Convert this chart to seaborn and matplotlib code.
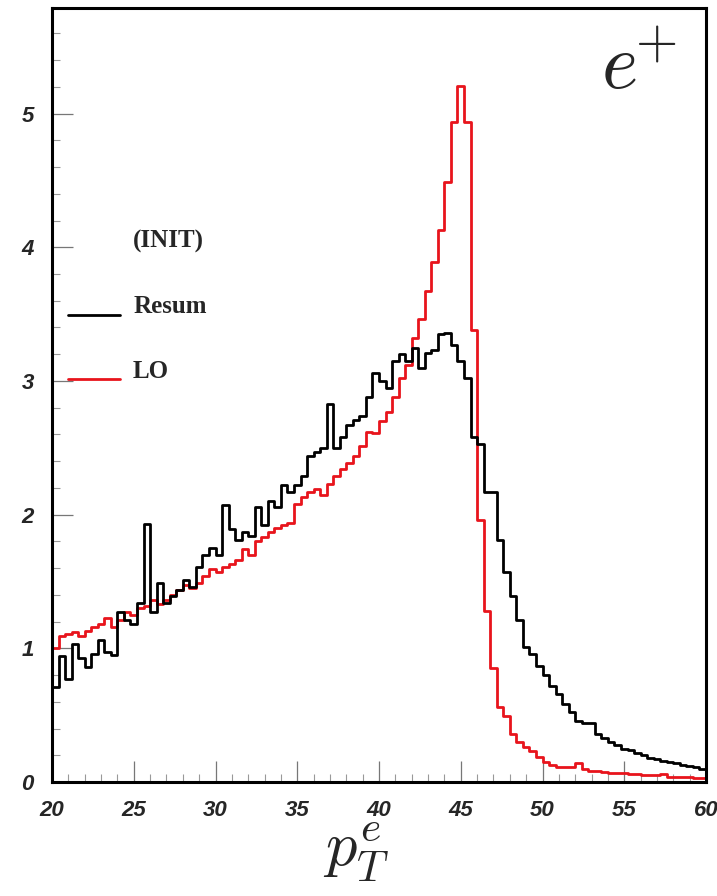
import numpy as np
import pandas as pd
import matplotlib
matplotlib.use("Agg")
import matplotlib.pyplot as plt
import seaborn as sns
from matplotlib.ticker import MultipleLocator

# ---- data: 100 bins of width 0.4 GeV from 20 to 60 ----
pt_lo, pt_hi, n_bins = 20.0, 60.0, 100

resum = [
    0.71, 0.94, 0.77, 1.03, 0.93, 0.86, 0.96, 1.06, 0.97, 0.95,
    1.27, 1.21, 1.18, 1.34, 1.93, 1.27, 1.49, 1.34, 1.39, 1.44,
    1.51, 1.46, 1.61, 1.70, 1.75, 1.70, 2.07, 1.89, 1.81, 1.87,
    1.84, 2.06, 1.92, 2.10, 2.06, 2.22, 2.17, 2.22, 2.29, 2.44,
    2.47, 2.50, 2.83, 2.50, 2.58, 2.67, 2.71, 2.74, 2.88, 3.06,
    3.00, 2.95, 3.15, 3.20, 3.15, 3.25, 3.10, 3.21, 3.23, 3.35,
    3.36, 3.27, 3.15, 3.02, 2.58, 2.53, 2.17, 2.17, 1.81, 1.57,
    1.39, 1.21, 1.01, 0.96, 0.87, 0.80, 0.72, 0.66, 0.58, 0.52,
    0.46, 0.44, 0.44, 0.36, 0.33, 0.30, 0.28, 0.25, 0.24, 0.22,
    0.20, 0.18, 0.17, 0.16, 0.15, 0.14, 0.13, 0.12, 0.11, 0.10,
]

lo = [
    1.00, 1.09, 1.11, 1.12, 1.09, 1.13, 1.16, 1.18, 1.23, 1.16,
    1.21, 1.27, 1.25, 1.30, 1.32, 1.36, 1.33, 1.36, 1.40, 1.44,
    1.47, 1.45, 1.49, 1.54, 1.59, 1.57, 1.61, 1.63, 1.66, 1.74,
    1.70, 1.80, 1.83, 1.87, 1.90, 1.92, 1.94, 2.08, 2.13, 2.17,
    2.19, 2.15, 2.23, 2.29, 2.34, 2.39, 2.44, 2.51, 2.62, 2.61,
    2.70, 2.77, 2.88, 3.02, 3.12, 3.32, 3.46, 3.67, 3.89, 4.13,
    4.49, 4.94, 5.21, 4.94, 3.38, 1.96, 1.28, 0.85, 0.56, 0.49,
    0.36, 0.30, 0.26, 0.23, 0.19, 0.15, 0.13, 0.11, 0.11, 0.11,
    0.14, 0.10, 0.085, 0.085, 0.075, 0.07, 0.07, 0.065, 0.06, 0.06,
    0.055, 0.055, 0.05, 0.06, 0.04, 0.035, 0.035, 0.035, 0.03, 0.03,
]

x_ticks = [20, 25, 30, 35, 40, 45, 50, 55, 60]
y_ticks = [0, 1, 2, 3, 4, 5]

edges = np.linspace(pt_lo, pt_hi, n_bins + 1)
centers = 0.5 * (edges[:-1] + edges[1:])
df = pd.DataFrame({
    "pt": np.concatenate([centers, centers]),
    "w": np.concatenate([resum, lo]),
    "curve": ["Resum"] * n_bins + ["LO"] * n_bins,
})

sns.set_theme(style="white")
plt.rcParams["font.family"] = ["Liberation Sans", "DejaVu Sans"]
plt.rcParams["mathtext.fontset"] = "cm"

fig = plt.figure(figsize=(7.17, 8.96), dpi=100)
ax = fig.add_axes([52 / 717, 1 - 782 / 896, 654 / 717, 774 / 896])

for name, col in [("LO", "#e8141c"), ("Resum", "black")]:
    sns.histplot(data=df[df.curve == name], x="pt", weights="w",
                 bins=n_bins, binrange=(pt_lo, pt_hi),
                 element="step", fill=False, color=col, linewidth=2.0, ax=ax)

ax.set_xlim(pt_lo, pt_hi)
ax.set_ylim(0, 5.79)
ax.set_ylabel("")
ax.set_xlabel(r"$p_T^e$", fontsize=45, va="top")
ax.xaxis.set_label_coords(0.465, -0.050)

ax.set_xticks(x_ticks)
ax.set_yticks(y_ticks)
ax.xaxis.set_minor_locator(MultipleLocator(1))
ax.yaxis.set_minor_locator(MultipleLocator(0.2))
ax.tick_params(axis="both", which="both", bottom=True, left=True,
               top=False, right=False, direction="in")
ax.tick_params(axis="both", which="major", length=15, width=0.9,
               color="#777777", pad=13, labelsize=16)
ax.tick_params(axis="both", which="minor", length=6, width=0.8,
               color="#999999")
for lab in ax.get_xticklabels() + ax.get_yticklabels():
    lab.set_fontweight("bold")
    lab.set_fontstyle("italic")

for sp in ax.spines.values():
    sp.set_visible(True)
    sp.set_color("black")
    sp.set_linewidth(2.2)
    sp.set_zorder(3)

# legend (drawn as in the original: free text plus short line samples)
serif = ["Liberation Serif", "DejaVu Serif"]
for label, ypos in [("(INIT)", 0.698), ("Resum", 0.614), ("LO", 0.530)]:
    ax.text(0.124, ypos, label, transform=ax.transAxes, fontsize=18,
            fontweight="bold", family=serif, va="center", ha="left")
ax.plot([0.024, 0.104], [0.603, 0.603], transform=ax.transAxes, color="black", lw=2)
ax.plot([0.024, 0.104], [0.521, 0.521], transform=ax.transAxes, color="#e8141c", lw=2)

ax.text(0.897, 0.922, r"$e^{\!\!+}$", transform=ax.transAxes, fontsize=56,
        ha="center", va="center")

fig.savefig("out.png", dpi=100)
